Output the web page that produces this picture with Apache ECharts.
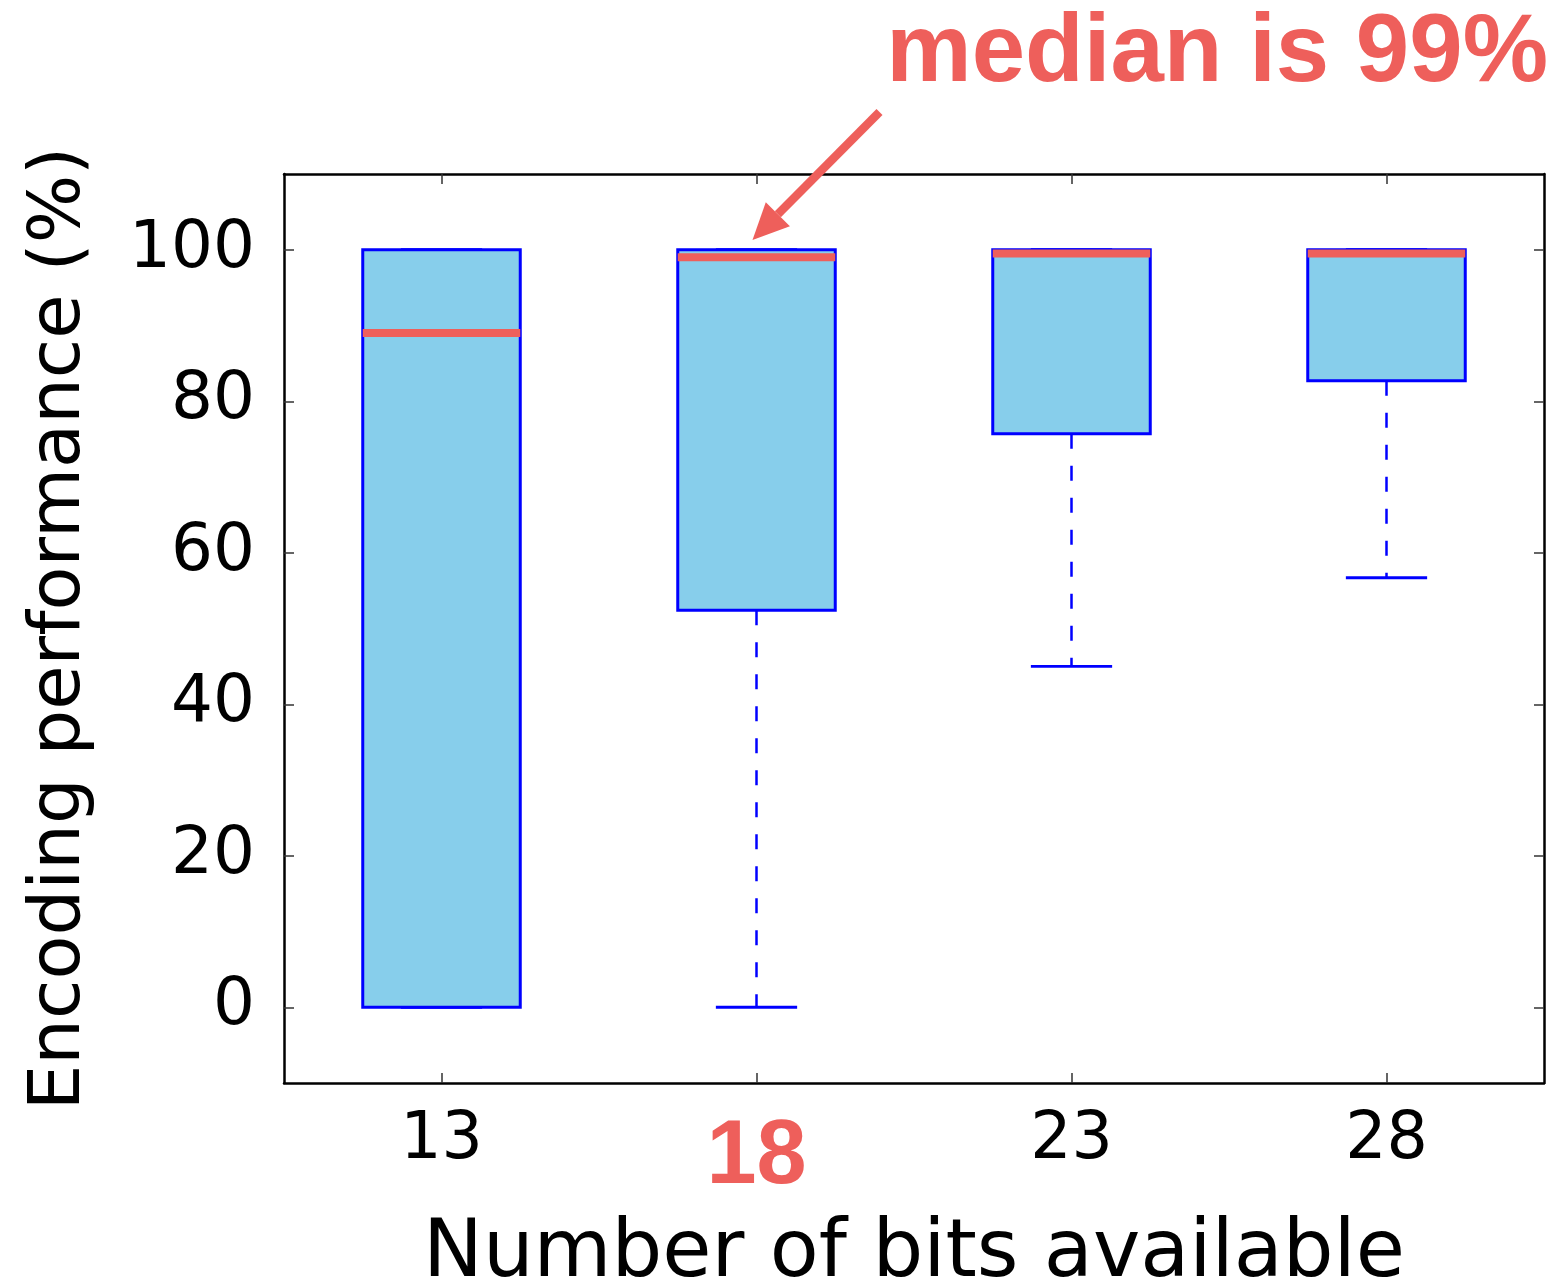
<!DOCTYPE html>
<html>
<head>
<meta charset="utf-8">
<script src="https://cdn.jsdelivr.net/npm/echarts@6/dist/echarts.min.js"></script>
<style>
  html, body { margin: 0; padding: 0; background: #ffffff; }
  #chart { width: 1556px; height: 1282px; }
</style>
</head>
<body>
<div id="chart"></div>
<script>
// Box-plot summary per bit budget (percent)
const categories  = ['13', '18', '23', '28'];
const whiskerLow  = [0, 0, 45.0, 56.7];
const quartile1   = [0, 52.4, 75.7, 82.7];
const medians     = [89.0, 99, 99.5, 99.5];
const quartile3   = [100, 100, 100, 100];
const whiskerHigh = [100, 100, 100, 100];
const yTicks      = [0, 20, 40, 60, 80, 100];
const highlightCategory = '18';
const calloutText = 'median is 99%';

const RED = '#ee5f5b';
const BLUE = '#0000ff';
const FILL = '#87ceeb';
const FONT = 'DejaVu Sans';

const boxData = categories.map((c, i) => [
  i, whiskerLow[i], quartile1[i], medians[i], quartile3[i], whiskerHigh[i]
]);

function renderBox(params, api) {
  const i = api.value(0);
  const cx = api.coord([i, api.value(3)])[0];
  const band = api.size([1, 0])[0];
  const half = band * 0.25;
  const capHalf = band * 0.129;
  const yLo  = api.coord([i, api.value(1)])[1];
  const yQ1  = api.coord([i, api.value(2)])[1];
  const yMed = api.coord([i, api.value(3)])[1];
  const yQ3  = api.coord([i, api.value(4)])[1];
  const yHi  = api.coord([i, api.value(5)])[1];
  const whisker = { stroke: BLUE, lineWidth: 2.5, lineDash: [15, 17] };
  const cap = { stroke: BLUE, lineWidth: 2.8 };
  const children = [];
  if (yLo - yQ1 > 0.5) {
    children.push({ type: 'line', shape: { x1: cx, y1: yQ1, x2: cx, y2: yLo }, style: whisker });
  }
  if (yQ3 - yHi > 0.5) {
    children.push({ type: 'line', shape: { x1: cx, y1: yQ3, x2: cx, y2: yHi }, style: whisker });
  }
  children.push({ type: 'line', shape: { x1: cx - capHalf, y1: yLo, x2: cx + capHalf, y2: yLo }, style: cap });
  children.push({ type: 'line', shape: { x1: cx - capHalf, y1: yHi, x2: cx + capHalf, y2: yHi }, style: cap });
  children.push({
    type: 'rect',
    shape: { x: cx - half, y: yQ3, width: half * 2, height: yQ1 - yQ3 },
    style: { fill: FILL, stroke: BLUE, lineWidth: 3 }
  });
  children.push({
    type: 'line',
    shape: { x1: cx - half, y1: yMed, x2: cx + half, y2: yMed },
    style: { stroke: RED, lineWidth: 8 }
  });
  return { type: 'group', children };
}

const frameLine = { show: true, onZero: false, lineStyle: { color: '#000', width: 2.5 } };
const tickStyle = { color: '#333', width: 1.5 };

const chart = echarts.init(document.getElementById('chart'), null, { renderer: 'canvas' });

chart.setOption({
  animation: false,
  backgroundColor: '#ffffff',
  grid: { left: 284, right: 12, top: 174, bottom: 199, containLabel: false, outerBoundsMode: 'none' },
  xAxis: [
    {
      type: 'category',
      data: categories,
      position: 'bottom',
      boundaryGap: true,
      axisLine: frameLine,
      axisTick: { show: true, inside: true, alignWithLabel: true, length: 10, lineStyle: tickStyle },
      axisLabel: {
        interval: 0,
        margin: 26,
        color: '#000',
        fontFamily: FONT,
        fontSize: 65,
        formatter: v => (v === highlightCategory ? '{hl|' + v + '}' : v),
        rich: {
          hl: { fontFamily: 'Liberation Sans', fontWeight: 'bold', fontSize: 90, color: RED, padding: [4, 0, 0, 0] }
        }
      },
      splitLine: { show: false },
      name: 'Number of bits available',
      nameLocation: 'middle',
      nameGap: 132,
      nameTextStyle: { fontFamily: FONT, fontSize: 80, color: '#000' }
    },
    {
      type: 'category',
      data: categories,
      position: 'top',
      boundaryGap: true,
      axisLine: frameLine,
      axisTick: { show: true, inside: true, alignWithLabel: true, interval: 0, length: 10, lineStyle: tickStyle },
      axisLabel: { show: false },
      splitLine: { show: false }
    }
  ],
  yAxis: [
    {
      type: 'value',
      min: -10,
      max: 110,
      position: 'left',
      axisLine: frameLine,
      axisTick: { show: true, inside: true, length: 10, lineStyle: tickStyle, customValues: yTicks },
      axisLabel: { customValues: yTicks, margin: 29, color: '#000', fontFamily: FONT, fontSize: 66 },
      splitLine: { show: false },
      name: 'Encoding performance (%)',
      nameLocation: 'middle',
      nameGap: 188,
      nameTextStyle: { fontFamily: FONT, fontSize: 72, color: '#000' }
    },
    {
      type: 'value',
      min: -10,
      max: 110,
      position: 'right',
      axisLine: frameLine,
      axisTick: { show: true, inside: true, length: 10, lineStyle: tickStyle, customValues: yTicks },
      axisLabel: { show: false },
      splitLine: { show: false }
    }
  ],
  series: [
    {
      type: 'custom',
      name: 'Encoding performance',
      xAxisIndex: 0,
      yAxisIndex: 0,
      renderItem: renderBox,
      encode: { x: 0, y: [1, 2, 3, 4, 5] },
      data: boxData,
      z: 3
    }
  ]
});

// Callout arrow pointing at the highlighted median, with its caption
const hi = categories.indexOf(highlightCategory);
const tip = chart.convertToPixel({ xAxisIndex: 0, yAxisIndex: 0 }, [hi, 101.3]);
tip[0] -= 4;
const start = [tip[0] + 127, tip[1] - 128];
const dx = start[0] - tip[0], dy = start[1] - tip[1];
const len = Math.sqrt(dx * dx + dy * dy);
const ux = dx / len, uy = dy / len;
const headLen = 36, headHalf = 17;
const bx = tip[0] + ux * headLen, by = tip[1] + uy * headLen;

chart.setOption({
  graphic: [
    {
      type: 'line',
      shape: { x1: start[0], y1: start[1], x2: bx, y2: by },
      style: { stroke: RED, lineWidth: 8.5 },
      z: 10
    },
    {
      type: 'polygon',
      shape: { points: [tip, [bx - uy * headHalf, by + ux * headHalf], [bx + uy * headHalf, by - ux * headHalf]] },
      style: { fill: RED },
      z: 10
    },
    {
      type: 'text',
      x: 1548,
      y: 55,
      style: {
        text: calloutText,
        fill: RED,
        font: 'bold 96px "Liberation Sans"',
        align: 'right',
        verticalAlign: 'middle'
      },
      z: 10
    }
  ]
});
</script>
</body>
</html>
